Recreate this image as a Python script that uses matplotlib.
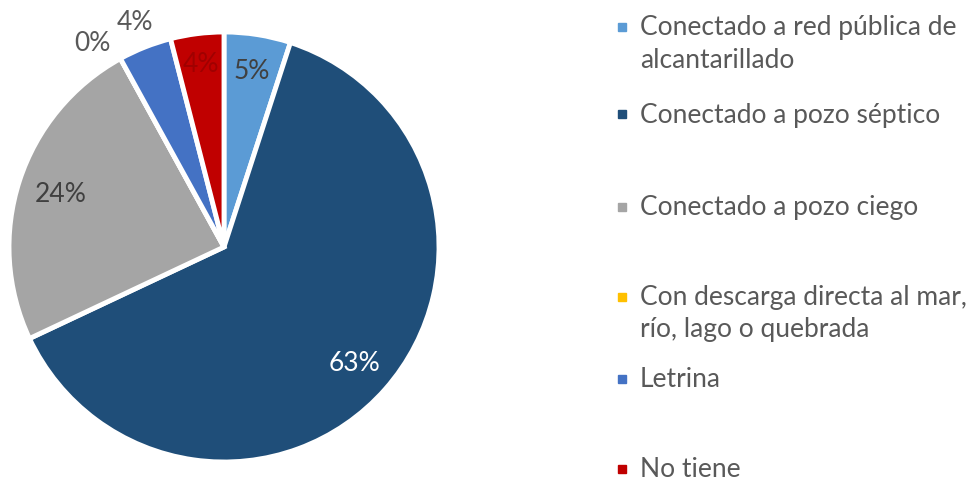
import numpy as np
import matplotlib
matplotlib.use("Agg")
import matplotlib.pyplot as plt
from matplotlib.patches import Rectangle

plt.rcParams['font.family'] = ['Lato', 'DejaVu Sans']

categories = ["Conectado a red pública de\nalcantarillado",
              "Conectado a pozo séptico",
              "Conectado a pozo ciego",
              "Con descarga directa al mar,\nrío, lago o quebrada",
              "Letrina",
              "No tiene"]
values = [5, 63, 24, 0, 4, 4]
colors = ["#5B9BD5", "#1F4E79", "#A5A5A5", "#FFC000", "#4472C4", "#C00000"]
label_colors = ["#404040", "#FFFFFF", "#404040", "#595959", "#595959", "#A00000"]
label_dist = [0.83, 0.81, 0.80, 1.13, 1.13, 0.86]
label_ang_shift = [0, 0, 0, 4, 0, 0]

W, H = 979, 485
fig = plt.figure(figsize=(W / 100, H / 100), dpi=100)
cx, cy, r = 224, 248, 215
ax = fig.add_axes([(cx - r) / W, (H - cy - r) / H, 2 * r / W, 2 * r / H])
wedges, _ = ax.pie(values, colors=colors, startangle=90, counterclock=False,
                   radius=1.0, wedgeprops=dict(edgecolor="white", linewidth=3.5))
ax.set_xlim(-1, 1)
ax.set_ylim(-1, 1)
ax.set_aspect('equal')
ax.axis('off')

for w, v, c, d, s in zip(wedges, values, label_colors, label_dist, label_ang_shift):
    ang = np.deg2rad((w.theta1 + w.theta2) / 2 + s)
    ax.text(d * np.cos(ang), d * np.sin(ang), f"{v}%", ha='center', va='center',
            fontsize=19, color=c, clip_on=False)

# Legend
entry_y = [28, 115, 208, 298, 380, 470]
line_h = 32
for lab, col, y in zip(categories, colors, entry_y):
    fig.patches.append(Rectangle(((622 - 4) / W, (H - y - 4) / H), 8 / W, 8 / H,
                                 transform=fig.transFigure, color=col, figure=fig))
    for i, line in enumerate(lab.split("\n")):
        fig.text(640 / W, (H - y - i * line_h) / H, line, ha='left', va='center',
                 fontsize=19, color="#595959")

fig.savefig("out.png", dpi=100, facecolor="white")
